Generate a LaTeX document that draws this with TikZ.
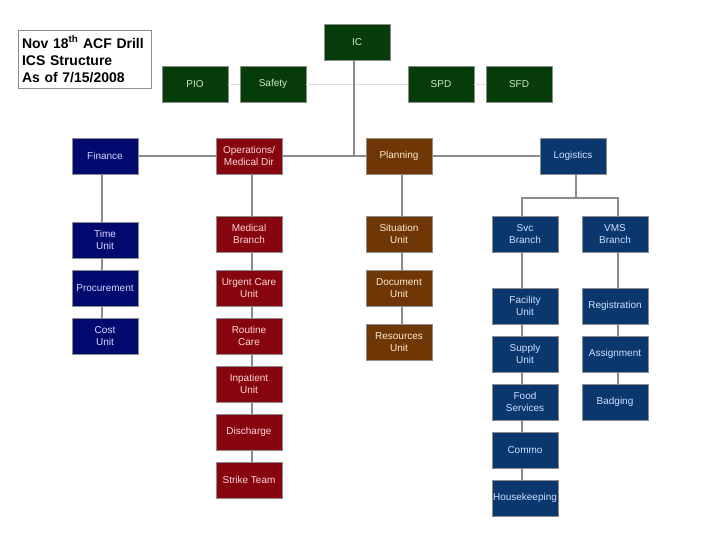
\documentclass[tikz,border=0pt]{standalone}
\usepackage{fontspec}
\setmainfont{Liberation Sans}
\definecolor{cgreen}{RGB}{5,60,10}
\definecolor{cnavy}{RGB}{0,10,110}
\definecolor{cred}{RGB}{135,5,15}
\definecolor{cbrown}{RGB}{110,55,5}
\definecolor{cblue}{RGB}{10,55,110}
\definecolor{tgreen}{RGB}{205,235,205}
\definecolor{tnavy}{RGB}{215,215,255}
\definecolor{tred}{RGB}{255,215,215}
\definecolor{tbrown}{RGB}{255,235,210}
\definecolor{tblue}{RGB}{205,225,255}
\definecolor{lgray}{RGB}{140,140,140}
\tikzset{
  box/.style={draw=lgray, line width=0.8pt, minimum width=66pt, minimum height=36pt,
    inner sep=0pt, align=center, font=\fontsize{10}{12}\selectfont},
  gbox/.style={box, fill=cgreen, text=tgreen},
  nbox/.style={box, fill=cnavy, text=tnavy},
  rbox/.style={box, fill=cred, text=tred},
  bbox/.style={box, fill=cbrown, text=tbrown},
  lbox/.style={box, fill=cblue, text=tblue},
  conn/.style={draw=lgray, line width=1.5pt},
  faint/.style={draw=gray!25, line width=0.6pt},
}
\begin{document}
\begin{tikzpicture}[x=1pt,y=-1pt]
\useasboundingbox (0,0) rectangle (720,540);
% title
\node[draw=lgray, line width=0.8pt, minimum width=133pt, minimum height=58pt, inner sep=0pt,
  align=left, font=\bfseries\fontsize{14}{17}\selectfont, text width=125pt] (title) at (84.5,59)
  {Nov 18\textsuperscript{th} ACF Drill\\ICS Structure\\As of 7/15/2008};
% top row
\node[gbox] (ic) at (357,42) {IC};
\node[gbox] (pio) at (195,84) {PIO};
\node[gbox] (saf) at (273,84) {Safety};
\node[gbox] (spd) at (441,84) {SPD};
\node[gbox] (sfd) at (519,84) {SFD};
% sections
\node[nbox] (fin) at (105,156) {Finance};
\node[rbox] (ops) at (249,156) {Operations/\\Medical Dir};
\node[bbox] (plan) at (399,156) {Planning};
\node[lbox] (log) at (573,156) {Logistics};
% finance
\node[nbox] (time) at (105,240) {Time\\Unit};
\node[nbox] (proc) at (105,288) {Procurement};
\node[nbox] (cost) at (105,336) {Cost\\Unit};
% operations
\node[rbox] (med) at (249,234) {Medical\\Branch};
\node[rbox] (urg) at (249,288) {Urgent Care\\Unit};
\node[rbox] (rout) at (249,336) {Routine\\Care};
\node[rbox] (inp) at (249,384) {Inpatient\\Unit};
\node[rbox] (dis) at (249,432) {Discharge};
\node[rbox] (str) at (249,480) {Strike Team};
% planning
\node[bbox] (sit) at (399,234) {Situation\\Unit};
\node[bbox] (doc) at (399,288) {Document\\Unit};
\node[bbox] (res) at (399,342) {Resources\\Unit};
% logistics
\node[lbox] (svc) at (525,234) {Svc\\Branch};
\node[lbox] (vms) at (615,234) {VMS\\Branch};
\node[lbox] (fac) at (525,306) {Facility\\Unit};
\node[lbox] (sup) at (525,354) {Supply\\Unit};
\node[lbox] (food) at (525,402) {Food\\Services};
\node[lbox] (com) at (525,450) {Commo};
\node[lbox] (hk) at (525,498) {Housekeeping};
\node[lbox] (reg) at (615,306) {Registration};
\node[lbox] (asg) at (615,354) {Assignment};
\node[lbox] (bad) at (615,402) {Badging};
% connectors
\coordinate (icj) at (354,156);
\coordinate (lj) at (576,198);
\draw[faint] (pio.east) -- (saf.west);
\draw[faint] (saf.east) -- (spd.west);
\draw[faint] (spd.east) -- (sfd.west);
\draw[conn] (ic.south -| icj) -- (icj);
\draw[conn] (fin.east) -- (ops.west);
\draw[conn] (ops.east) -- (plan.west);
\draw[conn] (plan.east) -- (log.west);
\foreach \a/\b in {fin/time,time/proc,proc/cost}
  \draw[conn] ([xshift=-3pt]\a.south) -- ([xshift=-3pt]\b.north);
\foreach \a/\b in {ops/med,med/urg,urg/rout,rout/inp,inp/dis,dis/str}
  \draw[conn] ([xshift=3pt]\a.south) -- ([xshift=3pt]\b.north);
\foreach \a/\b in {plan/sit,sit/doc,doc/res}
  \draw[conn] ([xshift=3pt]\a.south) -- ([xshift=3pt]\b.north);
\foreach \a/\b in {svc/fac,fac/sup,sup/food,food/com,com/hk}
  \draw[conn] ([xshift=-3pt]\a.south) -- ([xshift=-3pt]\b.north);
\foreach \a/\b in {vms/reg,reg/asg,asg/bad}
  \draw[conn] ([xshift=3pt]\a.south) -- ([xshift=3pt]\b.north);
\draw[conn] ([xshift=3pt]log.south) -- (lj);
\draw[conn] ([xshift=-3pt]svc.north) |- (lj) -| ([xshift=3pt]vms.north);
\end{tikzpicture}
\end{document}
